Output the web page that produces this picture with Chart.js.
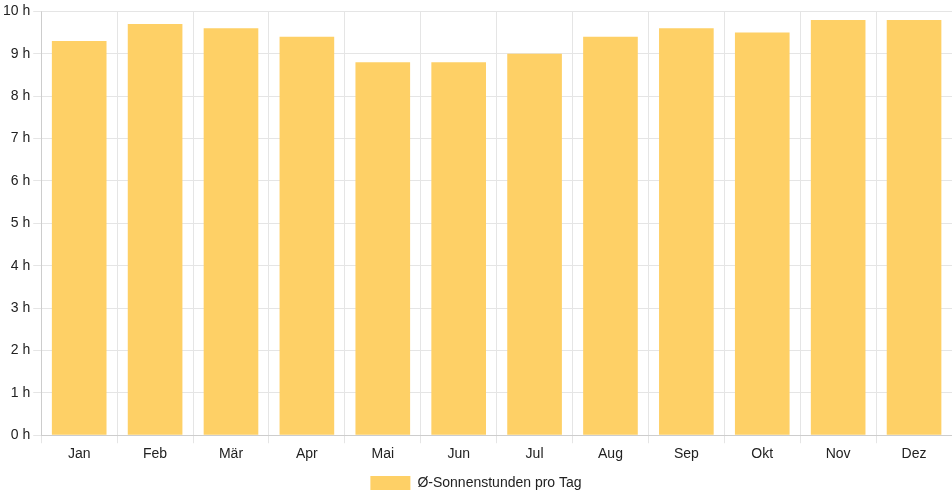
<!DOCTYPE html>
<html>
<head>
<meta charset="utf-8">
<script src="https://cdn.jsdelivr.net/npm/chart.js@4"></script>
<style>
  html, body { margin: 0; padding: 0; background: #fff; }
  #wrap { width: 952px; height: 500px; }
</style>
</head>
<body>
<div id="wrap"><canvas id="chart"></canvas></div>
<script>
const months = ["Jan", "Feb", "Mär", "Apr", "Mai", "Jun", "Jul", "Aug", "Sep", "Okt", "Nov", "Dez"];
const sunHours = [9.3, 9.7, 9.6, 9.4, 8.8, 8.8, 9.0, 9.4, 9.6, 9.5, 9.8, 9.8];
const seriesLabel = "Ø-Sonnenstunden pro Tag";

Chart.defaults.font.family = "'Liberation Sans', Arial, sans-serif";
Chart.defaults.font.size = 14;
Chart.defaults.color = "#222";

const ctx = document.getElementById("chart").getContext("2d");
new Chart(ctx, {
  type: "bar",
  data: {
    labels: months,
    datasets: [
      {
        label: seriesLabel,
        data: sunHours,
        backgroundColor: "rgb(254, 208, 102)",
        borderWidth: 0,
      },
    ],
  },
  options: {
    responsive: true,
    maintainAspectRatio: false,
    animation: false,
    plugins: {
      legend: {
        position: "bottom",
        labels: { boxWidth: 40, boxHeight: 14 },
      },
      tooltip: { enabled: false },
    },
    scales: {
      y: {
        beginAtZero: true,
        min: 0,
        max: 10,
        ticks: {
          stepSize: 1,
          callback: (v) => v + " h",
        },
        grid: { color: "#e5e5e5" },
      },
      x: {
        grid: { color: "#e5e5e5" },
      },
    },
  },
});
</script>
</body>
</html>
